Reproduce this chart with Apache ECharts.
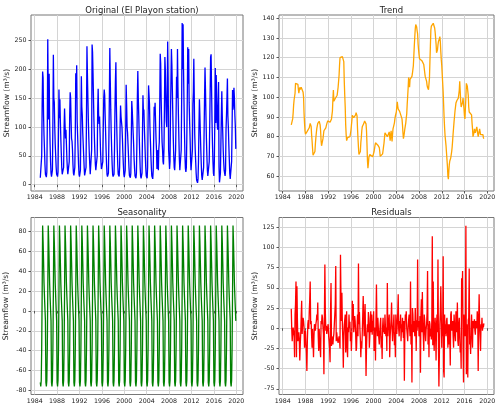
<!DOCTYPE html>
<html>
<head>
<meta charset="utf-8">
<script src="https://cdn.jsdelivr.net/npm/echarts@6/dist/echarts.min.js"></script>
<style>
html,body{margin:0;padding:0;background:#ffffff;}
#chart{width:500px;height:408px;}
</style>
</head>
<body>
<div id="chart"></div>
<script>
// Monthly series, first month = Jan 1985
const firstYear = 1985;

// Original streamflow (m3/s), Jan 1985 .. Dec 2019, one row per year
const originalFlow = [
  12, 10, 14, 50, 140, 196, 185, 120, 85, 60, 35, 18,
  15, 13, 22, 100, 252, 160, 113, 192, 110, 70, 40, 20,
  14, 13, 25, 110, 225, 150, 143, 100, 70, 50, 30, 18,
  15, 14, 22, 90, 165, 115, 148, 110, 80, 55, 30, 18,
  16, 17, 30, 100, 132, 104, 80, 95, 70, 45, 28, 18,
  17, 18, 40, 120, 160, 150, 110, 80, 75, 60, 35, 20,
  16, 14, 30, 90, 193, 150, 207, 110, 85, 60, 35, 18,
  14, 13, 25, 110, 188, 135, 120, 90, 70, 50, 30, 16,
  13, 14, 30, 120, 240, 190, 150, 110, 80, 55, 35, 18,
  16, 15, 60, 243, 230, 193, 150, 110, 80, 55, 35, 25,
  22, 25, 50, 130, 166, 120, 105, 118, 90, 60, 40, 27,
  28, 26, 40, 100, 150, 165, 155, 120, 90, 60, 35, 18,
  14, 13, 20, 80, 150, 237, 180, 130, 90, 60, 35, 18,
  14, 13, 18, 60, 130, 180, 212, 140, 95, 60, 35, 18,
  15, 14, 30, 100, 137, 118, 120, 100, 80, 55, 35, 18,
  13, 12, 25, 90, 173, 140, 100, 90, 70, 50, 30, 16,
  13, 12, 20, 80, 145, 130, 110, 90, 70, 45, 28, 15,
  12, 11, 20, 70, 150, 197, 150, 120, 85, 55, 30, 15,
  11, 10, 20, 90, 155, 125, 130, 100, 75, 50, 30, 15,
  12, 11, 30, 110, 172, 170, 140, 100, 75, 50, 30, 15,
  12, 10, 25, 80, 135, 120, 142, 110, 80, 60, 27, 25,
  60, 25, 62, 74, 140, 227, 210, 150, 110, 74, 60, 40,
  35, 60, 130, 221, 198, 150, 110, 100, 160, 248, 184, 60,
  45, 27, 40, 120, 180, 235, 208, 165, 120, 80, 50, 30,
  25, 28, 60, 120, 187, 150, 235, 169, 120, 80, 45, 25,
  22, 25, 60, 150, 280, 200, 278, 198, 140, 90, 50, 28,
  22, 30, 80, 150, 238, 175, 235, 143, 110, 80, 45, 25,
  22, 25, 60, 140, 160, 218, 150, 86, 60, 40, 20, 8,
  5, 3, 10, 40, 100, 148, 120, 90, 60, 35, 15, 8,
  8, 10, 30, 90, 150, 203, 165, 120, 80, 50, 25, 15,
  12, 15, 40, 100, 160, 221, 226, 170, 110, 70, 40, 20,
  15, 40, 110, 202, 107, 190, 150, 110, 95, 130, 178, 30,
  4, 2, 20, 70, 120, 162, 120, 90, 60, 40, 25, 20,
  15, 25, 95, 120, 150, 184, 120, 100, 70, 45, 20, 10,
  12, 10, 40, 100, 164, 130, 140, 168, 150, 120, 100, 62
];

// Trend (m3/s), Jul 1985 .. Jun 2019
const trendOffset = 6;
const trendFlow = [
  86, 86, 86.3, 89, 92, 96,
  98.7, 99, 102, 107, 107.2, 107.3, 107.1, 107, 106.5, 104, 102, 103.5,
  105, 103.9, 104, 105, 104.8, 104.4, 104, 102.5, 100, 92, 87, 83,
  81.3, 80.7, 81.5, 82.4, 82.3, 82.2, 82, 82.5, 84.5, 85.5, 86.7, 87,
  85.2, 81, 77.8, 74, 70.6, 70.2, 70.1, 70, 72.5, 76.4, 79.5, 82,
  84.2, 85.5, 86.7, 87.2, 87.5, 87.8, 87, 86, 83, 78, 75.4, 74.6,
  75.5, 79, 81, 83, 83.6, 83.4, 83.2, 84.5, 85.5, 86.5, 87.5, 88,
  89, 89, 88.5, 87.7, 87.3, 87, 86.6, 89, 91, 93, 99, 103.6,
  98, 97, 98.5, 99.3, 99.7, 100, 100.1, 101, 103, 105, 108, 111,
  116, 120, 120.5, 120.6, 120, 119.7, 120.5, 121.4, 120, 118, 108, 101,
  95, 86, 81, 78, 78.5, 79.5, 80, 80.1, 80.3, 80.1, 80, 80,
  83, 85.5, 88, 90.8, 90.4, 90, 89.6, 89.3, 89.5, 90, 91, 92.2,
  93.2, 90.5, 84, 79, 74.5, 71, 70.3, 70.4, 72.5, 77, 79.5, 83,
  85, 85.6, 86, 86.5, 87.2, 87.9, 88.5, 88.3, 86.5, 83, 76, 68,
  64, 66.5, 69.5, 70.5, 71, 70.7, 70.4, 70.2, 70.1, 70, 69.8, 69.5,
  70.5, 72.5, 74, 75.6, 76.9, 76.7, 76.5, 76.3, 76, 75.7, 75.4, 75,
  74.5, 72.5, 70, 69.9, 70.2, 70.5, 71, 71.3, 73, 75, 76.8, 79.5,
  82, 83, 82.5, 81.7, 81, 80, 79.2, 79.5, 81, 82.4, 80, 78,
  81, 83, 80, 77.6, 81, 84, 84.5, 85, 87, 89, 90.5, 91.5,
  92.5, 95, 97.6, 95.5, 94, 93.6, 93.2, 92.8, 92.5, 92.5, 92.5, 92,
  89, 86, 82, 79, 80.4, 82, 84, 85.5, 87, 89.5, 91.5, 96.5,
  100.5, 104.8, 110, 109, 105, 109, 109, 108.8, 109.2, 110.5, 112, 112.5,
  116, 121, 126, 130.5, 134.5, 136.8, 137, 135.5, 133.5, 132, 127, 124,
  121.5, 119.5, 118.8, 118.8, 118.8, 118.7, 118.5, 118.4, 118.2, 118, 116.5, 114.5,
  112.5, 110.5, 109.5, 110.3, 108, 106, 104.9, 104.3, 103.8, 104, 109.5, 118,
  126, 134, 136, 136.6, 136, 136.5, 137.4, 137.2, 136.5, 135, 133, 130,
  127, 122.5, 122, 124, 126.5, 128.2, 128.8, 129.6, 130.7, 128, 123, 119,
  116, 111.5, 107, 102.5, 96, 89.5, 84.5, 80.5, 78, 75.5, 72, 68.5,
  65, 60, 58.5, 62.7, 66, 67.7, 68.6, 69.3, 70.2, 72.5, 74.8, 78,
  81.5, 84.5, 87.6, 90.2, 93, 95, 97, 98, 98.3, 98.6, 99, 99.5,
  101.5, 103.5, 108, 103, 98, 95, 95, 95.5, 97.5, 99.5, 99, 94,
  90.5, 89, 89, 100, 107, 107, 105.5, 104.7, 101, 95, 92.5, 92.5,
  92.2, 92, 91.5, 91, 87, 84, 80, 79, 82, 84, 84, 82,
  81, 83, 85, 83.5, 81.5, 80, 81, 82.5, 84, 83, 81, 80,
  80.5, 81.5, 82, 81, 79.5, 79
];

// Seasonal component (m3/s), Jan .. Dec, repeats every year
const seasonalPattern = [-72, -76, -70, -38, 18, 86, 70, 50, 28, 14, 2, -10];
const seasonalYears = 35;

// Residuals (m3/s), Jul 1985 .. Jun 2019
const residualOffset = 6;
const residualFlow = [
  24, -1, -16, -5, 1, -1,
  -10, -36, 17, 30, 58, -36, 52, 10, -16, -12, -5, -14,
  -40, -20, -7, 15, 34, -7, 5, 13, 9, 1, -24, -10,
  -3, -20, -30, -53, -16, 5, 10, -1, 20, 35, 58, 5,
  9, -10, -24, -1, -15, -36, -10, 5, 1, -3, 5, 9,
  17, 10, 32, -10, -28, -1, -16, -25, -36, 9, 5, 17,
  13, 2, -7, -57, 10, 79, 20, -3, 3, -7, -2, 0,
  5, -10, -16, -25, -42, 20, 56, -22, -10, -16, -20, -12,
  -7, 5, 17, 30, 77, -16, -5, -12, -14, -18, -20, -10,
  -14, -25, 91, 40, 9, 44, 5, -15, -49, -10, 5, 10,
  17, -30, -5, 21, -24, -36, 1, -5, 17, 0, 8, -16,
  -5, -28, -10, 34, 10, 30, -5, 5, 15, 9, -5, -28,
  -24, 0, 17, -10, 80, 5, 20, 0, -14, -36, -16, -25,
  -7, 15, 40, 38, -10, 5, 30, -10, -59, -24, -5, 5,
  -5, 20, 13, -24, -10, 5, 21, -5, 17, -8, 9, 0,
  21, -28, -5, 1, -40, 10, 54, 5, -10, 13, 13, -12,
  -20, -5, 5, 13, -24, -10, -38, 1, 13, -5, 1, -7,
  17, 1, -10, 1, -28, 56, -10, 5, 8, 17, -36, -10,
  1, 12, 32, 0, -16, -3, 5, 17, -21, -5, -36, 17,
  3, -7, 5, 20, 42, -1, -10, 9, 0, 17, -16, 5,
  -5, 13, -1, -12, 9, -65, -5, 17, 13, 21, 0, -7,
  -16, 1, 10, 17, 1, -10, 58, -20, 5, -67, 25, 17,
  -5, 1, 9, -10, 25, 5, -28, 10, -3, 85, 1, 9,
  -10, -7, 15, -55, 17, 36, -5, 45, 5, -10, -28, 17,
  9, -5, -16, -1, 5, 20, 71, -20, 5, -36, 9, 5,
  -10, -1, -14, 10, 114, -21, 58, -10, -28, 1, 13, -10,
  -40, 5, 17, -5, 85, -20, -72, -32, 5, 20, 52, 17,
  -24, 5, -10, 89, -53, -61, 17, -7, 5, -10, 9, 13,
  -5, -24, 5, -20, 5, -10, -46, 17, 21, -3, 5, 9,
  -10, -24, 17, 5, -8, -16, 21, 1, -5, 32, -16, -22,
  5, 13, -10, -30, -20, -50, 62, 40, 71, -20, -67, 17,
  5, -10, 9, 127, -57, 5, -10, -61, 10, 13, 74, -20,
  -10, -32, -3, 17, -5, -24, 9, 0, 5, 11, -3, -8,
  9, 11, 0, 21, 13, -53, 10, 42, 5, -10, -28, 5,
  0, 13, -3, 5, 1, 6
];

// Axis ticks
const yearTicks = [1984, 1988, 1992, 1996, 2000, 2004, 2008, 2012, 2016, 2020];
const originalTicks = [0, 50, 100, 150, 200, 250];
const trendTicks = [60, 70, 80, 90, 100, 110, 120, 130, 140];
const seasonalTicks = [-80, -60, -40, -20, 0, 20, 40, 60, 80];
const residualTicks = [-75, -50, -25, 0, 25, 50, 75, 100, 125];

const panelTitles = ['Original (El Playon station)', 'Trend', 'Seasonality', 'Residuals'];
const yLabel = 'Streamflow (m\u00b3/s)';

function toPoints(values, offset) {
  return values.map((v, i) => [firstYear + (i + offset) / 12, v]);
}
const seasonalValues = [];
for (let y = 0; y < seasonalYears; y++) {
  for (let k = 0; k < 12; k++) seasonalValues.push(seasonalPattern[k]);
}

const FONT = 'DejaVu Sans';
const xMin = 1983.34, xMax = 2021.2;

const grids = [
  {left: 31, top: 15, width: 212, height: 176},
  {left: 279, top: 15, width: 215, height: 176},
  {left: 31, top: 217.5, width: 212, height: 177},
  {left: 279, top: 217.5, width: 215, height: 177}
];
const yRanges = [
  {min: -11, max: 294, ticks: originalTicks, gap: 17},
  {min: 52.5, max: 141.6, ticks: trendTicks, gap: 18},
  {min: -84.1, max: 94.1, ticks: seasonalTicks, gap: 21},
  {min: -82, max: 137.1, ticks: residualTicks, gap: 19}
];
const lineColors = ['#0000ff', '#ffa500', '#008000', '#ff0000'];
const seriesData = [
  toPoints(originalFlow, 0),
  toPoints(trendFlow, trendOffset),
  toPoints(seasonalValues, 0),
  toPoints(residualFlow, residualOffset)
];

const option = {
  animation: false,
  backgroundColor: '#ffffff',
  textStyle: {fontFamily: FONT},
  title: grids.map((g, i) => ({
    text: panelTitles[i],
    left: g.left + g.width / 2,
    top: g.top - 14,
    textAlign: 'center',
    textStyle: {fontFamily: FONT, fontSize: 8.5, fontWeight: 'normal', color: '#222'}
  })),
  grid: grids.map(g => Object.assign({show: true, borderColor: '#777', borderWidth: 1, containLabel: false}, g)),
  xAxis: grids.map((g, i) => ({
    type: 'value', gridIndex: i, min: xMin, max: xMax,
    axisLine: {show: false},
    axisTick: {show: true, length: 2.5, customValues: yearTicks, lineStyle: {color: '#555', width: 1}},
    axisLabel: {customValues: yearTicks, fontSize: 6.3, color: '#222', margin: 3.5, fontFamily: FONT,
      formatter: v => String(Math.round(v))},
    splitLine: {show: true, lineStyle: {color: '#d4d4d4', width: 1}}
  })),
  yAxis: grids.map((g, i) => ({
    type: 'value', gridIndex: i, min: yRanges[i].min, max: yRanges[i].max,
    name: yLabel, nameLocation: 'middle', nameGap: yRanges[i].gap,
    nameTextStyle: {fontFamily: FONT, fontSize: 7.6, color: '#222'},
    axisLine: {show: false},
    axisTick: {show: true, length: 2.5, customValues: yRanges[i].ticks, lineStyle: {color: '#555', width: 1}},
    axisLabel: {customValues: yRanges[i].ticks, fontSize: 6.3, color: '#222', margin: 4.5, fontFamily: FONT,
      formatter: v => String(Math.round(v))},
    splitLine: {show: true, lineStyle: {color: '#d4d4d4', width: 1}}
  })),
  series: seriesData.map((d, i) => ({
    type: 'line', xAxisIndex: i, yAxisIndex: i, data: d,
    showSymbol: false, symbol: 'none', silent: true, sampling: null,
    lineStyle: {color: lineColors[i], width: 1.3},
    z: 3
  }))
};

const chart = echarts.init(document.getElementById('chart'), null, {renderer: 'canvas'});
chart.setOption(option);
</script>
</body>
</html>
